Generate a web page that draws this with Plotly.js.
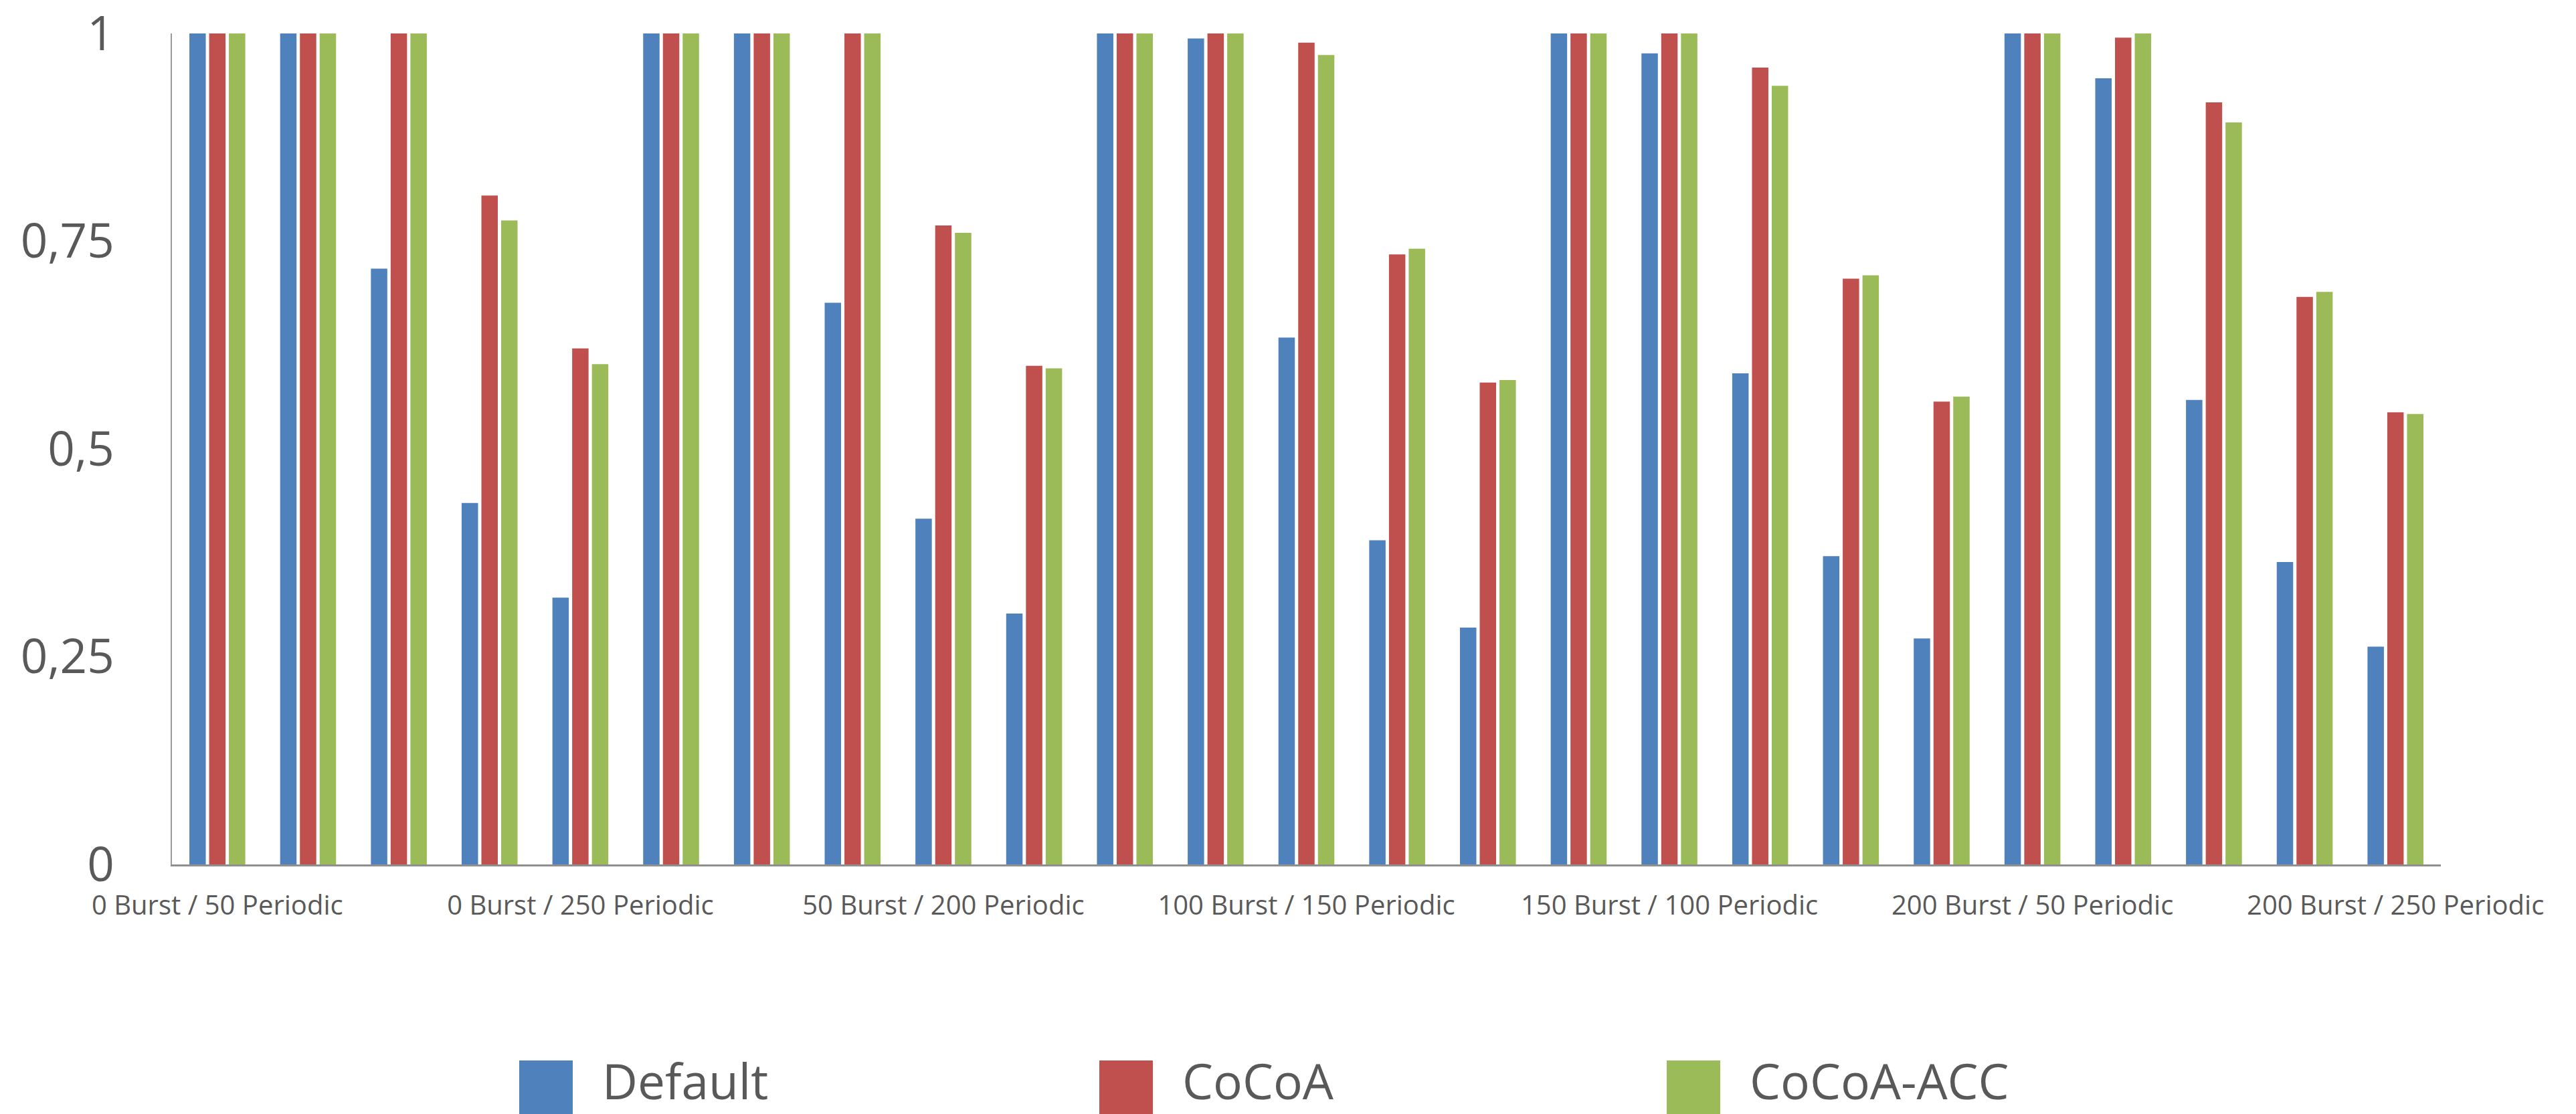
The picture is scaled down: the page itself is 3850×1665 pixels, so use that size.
<!DOCTYPE html>
<html>
<head>
<meta charset="utf-8">
<script src="https://cdn.plot.ly/plotly-3.0.1.min.js"></script>
<style>
html,body{margin:0;padding:0;background:#fff;}
#chart{width:3850px;height:1665px;}
</style>
</head>
<body>
<div id="chart"></div>
<script>
// ---- data ----
const categories = [
  "0 Burst / 50 Periodic","0 Burst / 100 Periodic","0 Burst / 150 Periodic","0 Burst / 200 Periodic","0 Burst / 250 Periodic",
  "50 Burst / 50 Periodic","50 Burst / 100 Periodic","50 Burst / 150 Periodic","50 Burst / 200 Periodic","50 Burst / 250 Periodic",
  "100 Burst / 50 Periodic","100 Burst / 100 Periodic","100 Burst / 150 Periodic","100 Burst / 200 Periodic","100 Burst / 250 Periodic",
  "150 Burst / 50 Periodic","150 Burst / 100 Periodic","150 Burst / 150 Periodic","150 Burst / 200 Periodic","150 Burst / 250 Periodic",
  "200 Burst / 50 Periodic","200 Burst / 100 Periodic","200 Burst / 150 Periodic","200 Burst / 200 Periodic","200 Burst / 250 Periodic"
];
const seriesNames = ["Default", "CoCoA", "CoCoA-ACC"];
const defaultValues = [
  1.0, 1.0, 0.717, 0.435, 0.321,
  1.0, 1.0, 0.676, 0.416, 0.302,
  1.0, 0.994, 0.634, 0.390, 0.285,
  1.0, 0.976, 0.591, 0.371, 0.272,
  1.0, 0.946, 0.559, 0.364, 0.262
];
const cocoaValues = [
  1.0, 1.0, 1.0, 0.805, 0.621,
  1.0, 1.0, 1.002, 0.769, 0.600,
  1.0, 1.0, 0.989, 0.734, 0.580,
  1.0, 1.0, 0.959, 0.705, 0.557,
  1.0, 0.995, 0.917, 0.683, 0.544
];
const cocoaAccValues = [
  1.0, 1.0, 1.0, 0.775, 0.602,
  1.0, 1.0, 1.0, 0.760, 0.597,
  1.0, 1.0, 0.974, 0.741, 0.583,
  1.0, 1.0, 0.937, 0.709, 0.563,
  1.002, 1.0, 0.893, 0.689, 0.542
];
const xTickCategories = [
  "0 Burst / 50 Periodic","0 Burst / 250 Periodic","50 Burst / 200 Periodic","100 Burst / 150 Periodic",
  "150 Burst / 100 Periodic","200 Burst / 50 Periodic","200 Burst / 250 Periodic"
];
const yTickValues = [0, 0.25, 0.5, 0.75, 1];
const yTickLabels = ["0", "0,25", "0,5", "0,75", "1"];

// ---- styling ----
const colors = ["#4F81BD", "#C0504D", "#9BBB59"];
const textColor = "#595959";
const FONT = "Open Sans, Liberation Sans, sans-serif";

const W = 3850, H = 1665;
const M = {l: 257, r: 202, t: 50, b: 373};
const plotW = W - M.l - M.r, plotH = H - M.t - M.b;
const px2paperX = px => (px - M.l) / plotW;
const px2paperY = py => (H - M.b - py) / plotH;

const valuesList = [defaultValues, cocoaValues, cocoaAccValues];
const traces = seriesNames.map((name, i) => ({
  type: "bar",
  name: name,
  x: categories,
  y: valuesList[i],
  marker: {color: colors[i], line: {width: 0}},
  hoverinfo: "x+y+name",
  cliponaxis: false
}));

// custom legend (large square swatches like the original)
const legendSquareX = [776, 1643, 2491];
const swatch = 80;
const shapes = [];
const annotations = [];
seriesNames.forEach((name, i) => {
  shapes.push({
    type: "rect", xref: "paper", yref: "paper",
    x0: px2paperX(legendSquareX[i]), x1: px2paperX(legendSquareX[i] + swatch),
    y0: px2paperY(1665), y1: px2paperY(1585),
    fillcolor: colors[i], line: {width: 0}
  });
  annotations.push({
    xref: "paper", yref: "paper",
    x: px2paperX(legendSquareX[i] + swatch + 42), y: px2paperY(1614),
    xanchor: "left", yanchor: "middle",
    text: name, showarrow: false,
    font: {family: FONT, size: 73, color: textColor}
  });
});

const layout = {
  width: W, height: H,
  margin: M,
  paper_bgcolor: "#ffffff",
  plot_bgcolor: "#ffffff",
  barmode: "group",
  bargap: 0.347,
  bargroupgap: 0.17,
  showlegend: false,
  font: {family: FONT, color: textColor},
  xaxis: {
    type: "category",
    categoryorder: "array",
    categoryarray: categories,
    tickvals: xTickCategories,
    ticktext: xTickCategories,
    tickangle: 0,
    ticks: "",
    showgrid: false,
    zeroline: false,
    showline: true,
    linecolor: "#8f8f8f",
    linewidth: 3,
    tickfont: {family: FONT, size: 40, color: textColor},
    ticklabelstandoff: 24,
    ticklabeloverflow: "allow",
    automargin: false,
    fixedrange: true
  },
  yaxis: {
    range: [0, 1],
    tickvals: yTickValues,
    ticktext: yTickLabels,
    ticks: "",
    showgrid: false,
    zeroline: false,
    showline: true,
    linecolor: "#9a9a9a",
    linewidth: 2,
    tickfont: {family: FONT, size: 71, color: textColor},
    ticklabelstandoff: 70,
    ticklabeloverflow: "allow",
    automargin: false,
    fixedrange: true
  },
  shapes: shapes,
  annotations: annotations
};

Plotly.newPlot("chart", traces, layout, {displayModeBar: false, staticPlot: true});
</script>
</body>
</html>
